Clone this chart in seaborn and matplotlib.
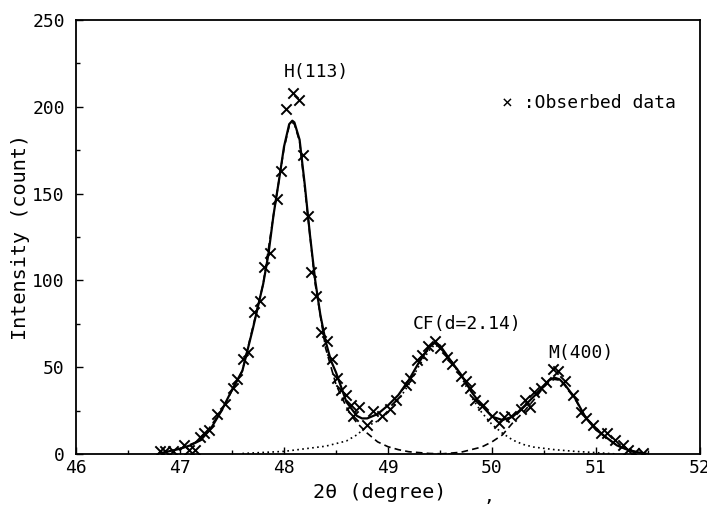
#!/usr/bin/env python3
# XRD peak separation around 2theta = 46-52 deg

import matplotlib.pyplot as plt
from matplotlib.ticker import MultipleLocator
import numpy as np
import seaborn as sns
import pandas as pd

# observed data (x marks)
obs_x = [46.81, 46.86, 46.93, 47.04, 47.09, 47.14, 47.19, 47.23, 47.28, 47.36,
         47.43, 47.51, 47.55, 47.61, 47.65, 47.71, 47.77, 47.81, 47.87, 47.93,
         47.97, 48.02, 48.09, 48.14, 48.18, 48.23, 48.26, 48.31, 48.36, 48.41,
         48.46, 48.51, 48.55, 48.60, 48.64, 48.66, 48.72, 48.80, 48.86, 48.94,
         49.02, 49.08, 49.17, 49.21, 49.28, 49.33, 49.38, 49.45, 49.50, 49.57,
         49.62, 49.70, 49.75, 49.79, 49.84, 49.91, 50.00, 50.07, 50.12, 50.18,
         50.28, 50.32, 50.37, 50.40, 50.47, 50.52, 50.59, 50.63, 50.70, 50.78,
         50.86, 50.90, 50.97, 51.05, 51.11, 51.18, 51.26, 51.31, 51.37, 51.45]
obs_y = [1.7, 1.7, 1.7, 5, 2.3, 2.3, 10, 12, 14, 23,
         29, 38, 43, 55, 59, 82, 88, 108, 116, 147,
         163, 199, 208, 204, 172, 137, 105, 91, 70, 65,
         55, 44, 37, 34, 28, 22, 27, 16.7, 25, 22,
         26, 31, 40, 44, 54, 57, 62, 65, 61, 56,
         52, 45, 42, 38, 31, 28, 22, 17.7, 21.5, 22,
         26, 31, 27, 36, 38, 41.6, 49, 48, 42, 34,
         24, 20.5, 16.7, 12, 12, 8, 5, 2.3, 0.5, 0.3]

# total fit (solid)
fit_x = [46.8, 47.0, 47.1, 47.2, 47.3, 47.4, 47.5, 47.6, 47.7, 47.8,
         47.85, 47.9, 47.95, 48.0, 48.05, 48.08, 48.1, 48.15, 48.2, 48.25,
         48.3, 48.35, 48.4, 48.45, 48.5, 48.6, 48.7, 48.75, 48.8, 48.9,
         49.0, 49.1, 49.2, 49.3, 49.4, 49.45, 49.5, 49.6, 49.7, 49.8,
         49.9, 50.0, 50.1, 50.2, 50.3, 50.4, 50.5, 50.55, 50.6, 50.65,
         50.7, 50.8, 50.9, 51.0, 51.1, 51.2, 51.3, 51.4, 51.5]
fit_y = [0.3, 3, 5, 8, 15, 25, 37, 48, 72, 98,
         115, 138, 157, 177, 190, 192, 191, 181, 155, 126,
         100, 80, 65, 54, 47, 30, 22, 20.5, 20.5, 23,
         28, 34, 42.6, 53, 62, 64, 62.5, 54, 46, 36,
         28, 21.5, 19.6, 21.5, 27, 33, 39, 42.5, 44, 43,
         40, 32, 21, 14, 9.5, 5, 2.5, 1, 0]

# H(113) component (dashed)
h_x = [47.0, 47.2, 47.4, 47.6, 47.8, 47.9, 48.0, 48.05, 48.08, 48.1,
       48.15, 48.2, 48.3, 48.4, 48.5, 48.6, 48.65, 48.7, 48.75, 48.8,
       48.9, 49.0, 49.1, 49.2, 49.4, 49.6]
h_y = [3, 8, 25, 48, 98, 138, 176, 189, 191, 190,
       180, 153, 98, 61, 40, 27, 22, 18, 15, 12,
       7, 4.2, 2.5, 1.3, 0.3, 0]

# CF(d=2.14) component (dotted)
cf_x = [47.6, 48.0, 48.2, 48.4, 48.6, 48.7, 48.8, 48.9, 49.0, 49.1,
        49.2, 49.3, 49.4, 49.45, 49.5, 49.6, 49.7, 49.8, 49.9, 50.0,
        50.1, 50.2, 50.3, 50.4, 50.6, 50.8, 51.0, 51.2]
cf_y = [0.3, 1.5, 3, 4.5, 7.5, 11, 16, 19, 24, 31,
        40, 51, 60, 63, 61, 54, 45, 33, 24, 17,
        12, 8, 5.5, 4, 2.5, 1.5, 0.8, 0]

# M(400) component (dashed)
m_x = [49.5, 49.7, 49.9, 50.0, 50.1, 50.2, 50.3, 50.4, 50.5, 50.55,
       50.6, 50.65, 50.7, 50.8, 50.9, 51.0, 51.1, 51.2, 51.3, 51.4, 51.5]
m_y = [0, 1, 4, 7, 11, 18, 24, 31, 38.7, 41.5,
       43, 42.5, 39.5, 31.5, 21, 14, 9.5, 5, 2.5, 1, 0]

sns.set(style="ticks")
plt.rcParams['font.family'] = ['DejaVu Sans Mono', 'DejaVu Sans']
plt.rcParams['text.color'] = 'black'
plt.rcParams['axes.labelcolor'] = 'black'

fig = plt.figure(figsize=(7.07, 5.05), dpi=100)
ax = fig.add_axes([76 / 707, 51 / 505, 624 / 707, 434 / 505])

obs = pd.DataFrame({'x': obs_x, 'y': obs_y})
sns.lineplot(x=fit_x, y=fit_y, color='black', linewidth=1.6, ax=ax)
sns.lineplot(x=h_x, y=h_y, color='black', linewidth=1.2, linestyle=(0, (4, 2.5)), ax=ax)
sns.lineplot(x=m_x, y=m_y, color='black', linewidth=1.2, linestyle=(0, (4, 2.5)), ax=ax)
sns.lineplot(x=cf_x, y=cf_y, color='black', linewidth=1.2, linestyle=(0, (1, 2)), ax=ax)
sns.scatterplot(data=obs, x='x', y='y', marker='x', color='black', s=55, linewidth=1.4, ax=ax)

ax.set_xlim(46, 52)
ax.set_ylim(0, 250)
ax.xaxis.set_major_locator(MultipleLocator(1))
ax.xaxis.set_minor_locator(MultipleLocator(0.5))
ax.yaxis.set_major_locator(MultipleLocator(50))
ax.yaxis.set_minor_locator(MultipleLocator(25))
ax.tick_params(which='both', direction='in', colors='black', labelsize=13,
               top=False, right=False)
ax.tick_params(which='major', length=5, width=1)
ax.tick_params(which='minor', length=3, width=1)
ax.tick_params(axis='y', which='major', pad=8)
for s in ax.spines.values():
    s.set_visible(True)
    s.set_color('black')
    s.set_linewidth(1.3)

ax.set_xlabel("2θ (degree)", fontsize=14.5)
ax.set_ylabel("Intensity (count)", fontsize=14.5)
ax.xaxis.set_label_coords(0.486, -0.066)
ax.yaxis.set_label_coords(-0.074, 0.5)

ax.text(48.31, 220, "H(113)", fontsize=13, ha='center', va='center')
ax.text(49.76, 75, "CF(d=2.14)", fontsize=13, ha='center', va='center')
ax.text(50.85, 58, "M(400)", fontsize=13, ha='center', va='center')
ax.text(50.10, 202, "× :Obserbed data", fontsize=13, ha='left', va='center')
fig.text(489 / 707, 1 - 497 / 505, ",", fontsize=13, ha='center', va='center')

plt.savefig("out.png", dpi=100)
plt.close()
